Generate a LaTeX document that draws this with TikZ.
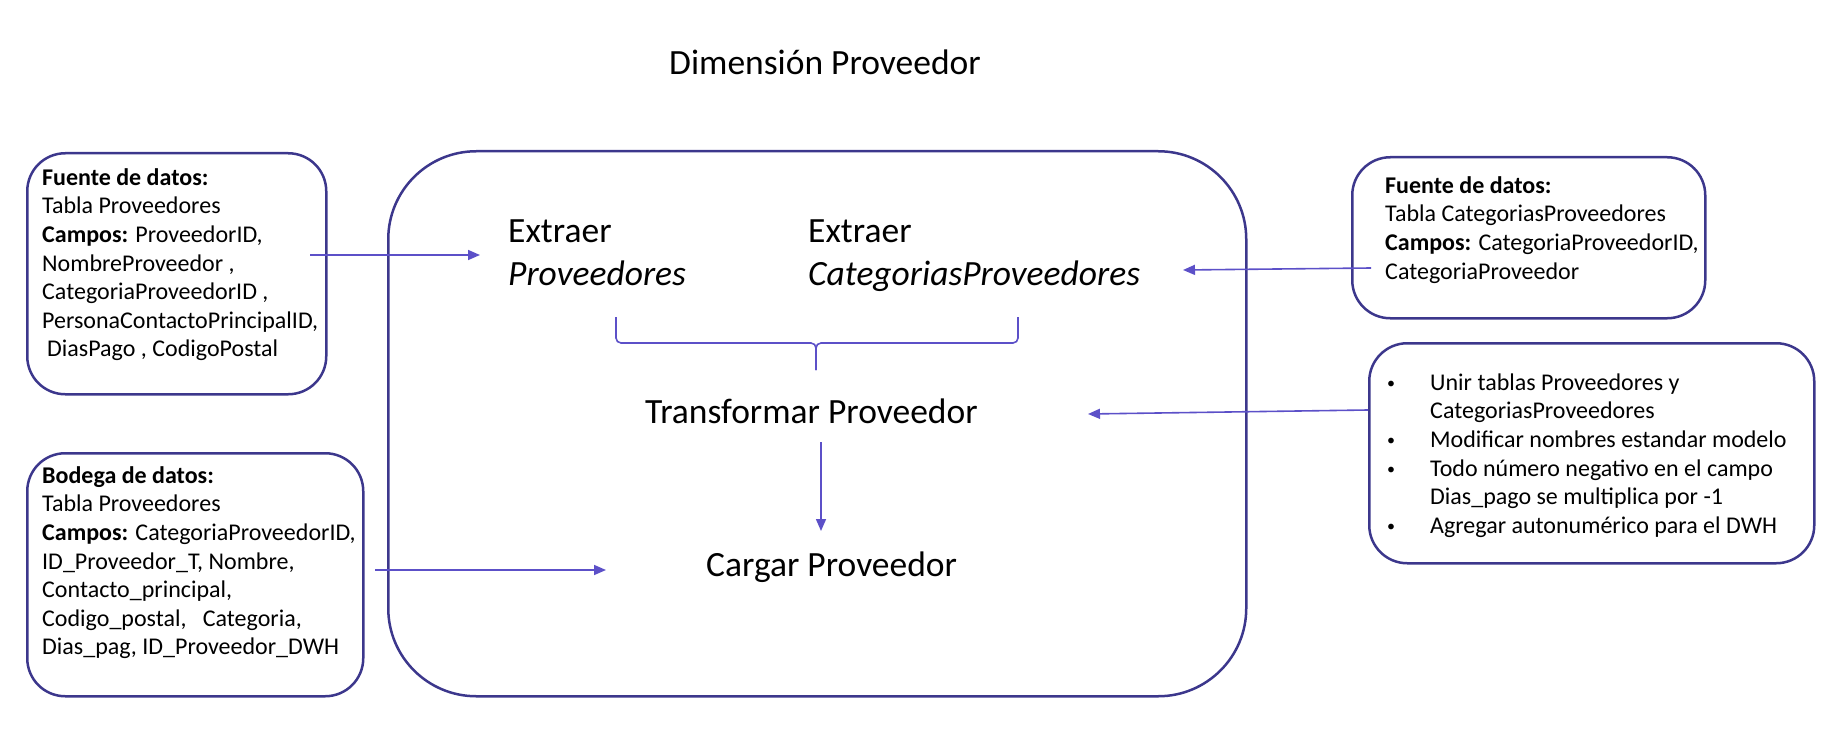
\documentclass[tikz,border=0pt]{standalone}
\usepackage{fontspec}
\setmainfont{Carlito}
\usetikzlibrary{arrows.meta}
\definecolor{bord}{RGB}{60,55,140}
\definecolor{arrc}{RGB}{92,80,200}
\newcommand{\mybul}{\makebox[45pt][l]{\hspace*{2pt}\raisebox{1.5pt}{\fontsize{16}{0}\selectfont •}}}
\begin{document}
\begin{tikzpicture}[x=1pt,y=-1pt,
  box/.style={draw=bord,line width=2.5pt,rounded corners=38pt,inner sep=0pt,anchor=north west},
  bigbox/.style={draw=bord,line width=2.5pt,rounded corners=88pt,inner sep=0pt,anchor=north west},
  arr/.style={draw=arrc,line width=1.6pt,-{Triangle[length=12pt,width=10pt]}},
  brace/.style={draw=arrc,line width=1.6pt,rounded corners=5pt},
  small/.style={font=\fontsize{24}{28.6}\selectfont,align=left,inner sep=0pt,anchor=north west},
  big/.style={font=\fontsize{35.5}{43}\selectfont,inner sep=0pt,anchor=base west}]
\useasboundingbox (0,0) rectangle (1836,730);

% boxes
\node[box,minimum width=299pt,minimum height=241pt] (src1) at (26,152) {};
\node[box,minimum width=336pt,minimum height=243pt] (dw) at (26,452) {};
\node[box,minimum width=353pt,minimum height=161pt] (src2) at (1351,156) {};
\node[box,minimum width=445pt,minimum height=220pt] (trb) at (1368,342) {};
\node[bigbox,minimum width=858pt,minimum height=545pt] (main) at (387,150) {};

% box texts
\node[small] (src1t) at (42,165) {\strut\textbf{Fuente de datos:}\\Tabla Proveedores\\\textbf{Campos:} ProveedorID,\\NombreProveedor ,\\CategoriaProveedorID ,\\PersonaContactoPrincipalID,\\\hspace*{5pt}DiasPago , CodigoPostal};
\node[small] (dwt) at (42,463) {\strut\textbf{Bodega de datos:}\\Tabla Proveedores\\\textbf{Campos:} CategoriaProveedorID,\\ID\_Proveedor\_T, Nombre,\\Contacto\_principal,\\Codigo\_postal,~~~Categoria,\\Dias\_pag, ID\_Proveedor\_DWH};
\node[small] (src2t) at (1385,173) {\strut\textbf{Fuente de datos:}\\Tabla CategoriasProveedores\\\textbf{Campos:} CategoriaProveedorID,\\CategoriaProveedor};
\node[small] (trt) at (1385,370) {\strut\mybul Unir tablas Proveedores y\\\hspace*{45pt}CategoriasProveedores\\\mybul Modificar nombres estandar modelo\\\mybul Todo número negativo en el campo\\\hspace*{45pt}Dias\_pago se multiplica por -1\\\mybul Agregar autonumérico para el DWH};

% big texts
\node[big] (title) at (669,75) {Dimensión Proveedor};
\node[big] (exA) at (508,242) {Extraer};
\node[big] (exB) at (508,285) {\itshape Proveedores};
\node[big] (exC) at (808,242) {Extraer};
\node[big] (exD) at (808,285) {\itshape CategoriasProveedores};
\node[big] (tf) at (645,423) {Transformar Proveedor};
\node[big] (cg) at (706,576) {Cargar Proveedor};

% connector ends
\coordinate (a1s) at (310,255);  \coordinate (a1e) at (480,255);
\coordinate (a2s) at (1371,268); \coordinate (a2e) at (1183,270);
\coordinate (a3s) at (1368,410); \coordinate (a3e) at (1088,414);
\coordinate (a4s) at (375,570);  \coordinate (a4e) at (606,570);
\coordinate (a5s) at (821,442);  \coordinate (a5e) at (821,531);
\coordinate (bl) at (616,317); \coordinate (br) at (1018,317);
\coordinate (bm) at (816,343); \coordinate (bs) at (816,370);

\draw[arr] (a1s) -- (a1e);
\draw[arr] (a2s) -- (a2e);
\draw[arr] (a3s) -- (a3e);
\draw[arr] (a4s) -- (a4e);
\draw[arr] (a5s) -- (a5e);

\draw[brace] (bl) -- (bl |- bm) -- (bm) -- (bs);
\draw[brace] (br) -- (br |- bm) -- (bm) -- (bs);
\end{tikzpicture}
\end{document}
